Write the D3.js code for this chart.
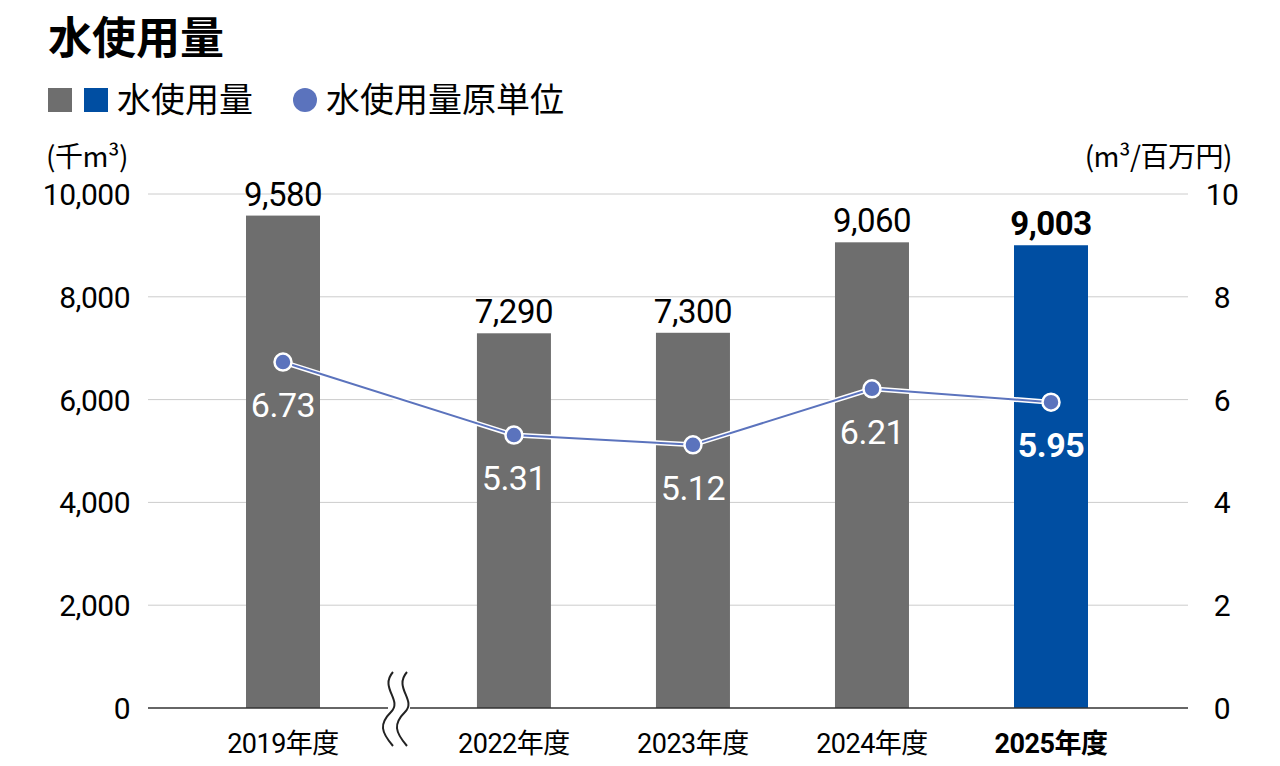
<!DOCTYPE html>
<html><head><meta charset="utf-8">
<script src="https://cdn.jsdelivr.net/npm/d3@7"></script>
<style>body{margin:0;background:#fff}text{font-family:"Liberation Sans Narrow","Roboto",sans-serif;letter-spacing:-0.5px}</style>
</head><body><svg width="1280" height="766"></svg>
<script>
const years = ["2019年度","2022年度","2023年度","2024年度","2025年度"];
const usage = [9580, 7290, 7300, 9060, 9003];
const intensity = [6.73, 5.31, 5.12, 6.21, 5.95];
const leftTicks = [0, 2000, 4000, 6000, 8000, 10000];
const rightTicks = [0, 2, 4, 6, 8, 10];

const svg = d3.select("svg");
const jp = '"Noto Sans CJK JP",sans-serif';
const y = d3.scaleLinear().domain([0, 10000]).range([708, 194]);
const y2 = d3.scaleLinear().domain([0, 10]).range([708, 194]);
// gap after the first category for the axis break
const slot = i => i === 0 ? 0 : i + 0.29;
const x = d3.scaleLinear().domain([0, 4.29]).range([283, 1051]);
const bw = 74;

svg.append("text").attr("x", 48).attr("y", 54).attr("font-size", 44).attr("font-weight", "bold")
  .style("font-family", jp).style("letter-spacing", "0").text("水使用量");

// legend
svg.append("rect").attr("x", 48).attr("y", 88).attr("width", 24).attr("height", 24).attr("fill", "#6e6e6e");
svg.append("rect").attr("x", 84).attr("y", 88).attr("width", 24).attr("height", 24).attr("fill", "#004ea2");
svg.append("text").attr("x", 117).attr("y", 112).attr("font-size", 34).style("font-family", jp).style("letter-spacing", "0").text("水使用量");
svg.append("circle").attr("cx", 305).attr("cy", 100).attr("r", 12).attr("fill", "#5b73bd");
svg.append("text").attr("x", 326).attr("y", 112).attr("font-size", 34).style("font-family", jp).style("letter-spacing", "0").text("水使用量原単位");

svg.append("text").attr("x", 46).attr("y", 167).attr("font-size", 28).style("font-family", jp).text("(千m³)");
svg.append("text").attr("x", 1232).attr("y", 167).attr("font-size", 28).attr("text-anchor", "end").style("font-family", jp).text("(m³/百万円)");

// grid
svg.append("g").selectAll("line").data(leftTicks.slice(1)).join("line")
  .attr("x1", 148).attr("x2", 1188).attr("y1", d => y(d)).attr("y2", d => y(d))
  .attr("stroke", "#cccccc").attr("stroke-width", 1);

svg.append("g").selectAll("text").data(leftTicks).join("text")
  .attr("x", 130).attr("y", d => y(d) + 11).attr("text-anchor", "end").attr("font-size", 30)
  .text(d => d3.format(",")(d));
svg.append("g").selectAll("text").data(rightTicks).join("text")
  .attr("x", 1222).attr("y", d => y2(d) + 11).attr("text-anchor", "middle").attr("font-size", 30)
  .text(d => d);

// bars
svg.append("g").selectAll("rect").data(usage).join("rect")
  .attr("x", (d, i) => x(slot(i)) - bw / 2).attr("width", bw)
  .attr("y", d => y(d)).attr("height", d => 708 - y(d))
  .attr("fill", (d, i) => i === 4 ? "#004ea2" : "#6e6e6e");
svg.append("g").selectAll("text").data(usage).join("text")
  .attr("x", (d, i) => x(slot(i))).attr("y", d => y(d) - 10).attr("text-anchor", "middle")
  .attr("font-size", 33).attr("font-weight", (d, i) => i === 4 ? "bold" : "normal")
  .text(d => d3.format(",")(d));

// axis line
svg.append("line").attr("x1", 148).attr("x2", 1188).attr("y1", 708).attr("y2", 708).attr("stroke", "#333").attr("stroke-width", 1.5);

// break mark
const bx = 400;
svg.append("rect").attr("x", bx - 12).attr("y", 700).attr("width", 22).attr("height", 16).attr("fill", "#fff");
[-7, 7].forEach(o => {
  svg.append("path")
    .attr("d", `M${bx + o},672 C${bx + o - 14},688 ${bx + o + 10},700 ${bx + o - 2},712 S${bx + o - 12},732 ${bx + o},746`)
    .attr("fill", "none").attr("stroke", "#222").attr("stroke-width", 2);
});

// category labels
svg.append("g").selectAll("text").data(years).join("text")
  .attr("x", (d, i) => x(slot(i))).attr("y", 753).attr("text-anchor", "middle").attr("font-size", 27)
  .attr("font-weight", (d, i) => i === 4 ? "bold" : "normal")
  .each(function (d) {
    const t = d3.select(this);
    t.append("tspan").text(d.slice(0, 4));
    t.append("tspan").style("font-family", jp).text(d.slice(4));
  });

// intensity line
const line = d3.line().x((d, i) => x(slot(i))).y(d => y2(d));
svg.append("path").datum(intensity).attr("d", line).attr("fill", "none").attr("stroke", "#fff").attr("stroke-width", 5);
svg.append("path").datum(intensity).attr("d", line).attr("fill", "none").attr("stroke", "#5b73bd").attr("stroke-width", 2);
svg.append("g").selectAll("circle").data(intensity).join("circle")
  .attr("cx", (d, i) => x(slot(i))).attr("cy", d => y2(d)).attr("r", 8.5)
  .attr("fill", "#5b73bd").attr("stroke", "#fff").attr("stroke-width", 2.5);
svg.append("g").selectAll("text").data(intensity).join("text")
  .attr("x", (d, i) => x(slot(i))).attr("y", d => y2(d) + 55).attr("text-anchor", "middle")
  .attr("font-size", 34).attr("fill", "#fff").attr("font-weight", (d, i) => i === 4 ? "bold" : "normal")
  .text(d => d.toFixed(2));
</script></body></html>
